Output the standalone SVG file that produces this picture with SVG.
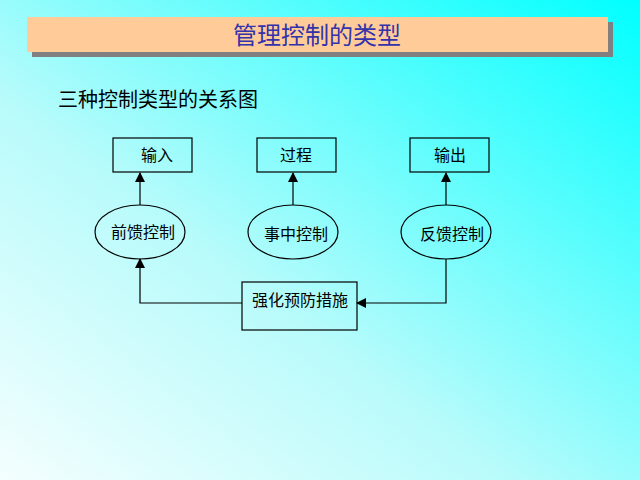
<svg xmlns="http://www.w3.org/2000/svg" width="640" height="480" viewBox="0 0 640 480">
<defs>
<linearGradient id="bg" x1="1" y1="0" x2="0" y2="1">
<stop offset="0" stop-color="#00ffff"/>
<stop offset="0.6" stop-color="#b8fbfb"/>
<stop offset="1" stop-color="#f4fefe"/>
</linearGradient>
<marker id="ah" markerWidth="10" markerHeight="10" refX="9" refY="5" orient="auto" markerUnits="userSpaceOnUse">
<path d="M0,0 L10,5 L0,10 Z" fill="#000"/>
</marker>
<style>
.n{fill:none;stroke:#000;stroke-width:1.2}
.t{font-family:"Liberation Serif","Noto Sans CJK SC",serif;font-size:16px;fill:#000;text-anchor:middle}
.c{fill:none;stroke:#000;stroke-width:1.2;marker-end:url(#ah)}
</style>
</defs>
<rect width="640" height="480" fill="url(#bg)"/>
<rect x="32" y="22" width="581" height="35" fill="#808080"/>
<rect x="27" y="17" width="581" height="35" fill="#ffcc99"/>
<text x="317" y="44" font-family="'Liberation Serif','Noto Sans CJK SC',serif" font-size="24" fill="#3333aa" text-anchor="middle">管理控制的类型</text>
<text x="58" y="107" font-family="'Liberation Serif','Noto Sans CJK SC',serif" font-size="20" fill="#000">三种控制类型的关系图</text>
<g id="connectors">
<path class="c" d="M140,205 V173"/>
<path class="c" d="M293,205 V173"/>
<path class="c" d="M446,205 V173"/>
<path class="c" d="M242,303 H140 V259"/>
<path class="c" d="M446,259 V303 H357"/>
</g>
<g id="n-input"><rect class="n" x="113" y="138" width="79" height="34"/><text class="t" x="157" y="161">输入</text></g>
<g id="n-process"><rect class="n" x="257" y="138" width="79" height="34"/><text class="t" x="296" y="161">过程</text></g>
<g id="n-output"><rect class="n" x="410" y="138" width="79" height="34"/><text class="t" x="450" y="161">输出</text></g>
<g id="n-ff"><ellipse class="n" cx="140" cy="232" rx="45" ry="27"/><text class="t" x="143" y="238">前馈控制</text></g>
<g id="n-mid"><ellipse class="n" cx="293" cy="232" rx="45" ry="27"/><text class="t" x="296" y="240">事中控制</text></g>
<g id="n-fb"><ellipse class="n" cx="446" cy="232" rx="45" ry="27"/><text class="t" x="452" y="240">反馈控制</text></g>
<g id="n-prev"><rect class="n" x="242" y="282" width="115" height="48"/><text class="t" x="300" y="306">强化预防措施</text></g>
</svg>
